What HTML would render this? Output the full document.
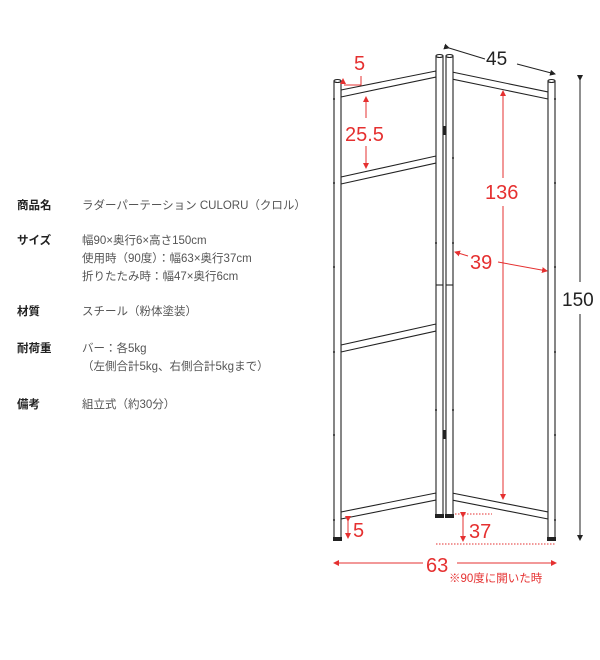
<!DOCTYPE html>
<html><head><meta charset="utf-8"><style>
html,body{margin:0;padding:0;background:#fff;}
body{width:600px;height:660px;position:relative;overflow:hidden;font-family:"Liberation Sans","Noto Sans CJK JP",sans-serif;}
.t{position:absolute;font-size:11.5px;color:#555;line-height:18px;white-space:nowrap;}
.l{position:absolute;left:17px;font-size:11.5px;color:#222;font-weight:bold;line-height:18px;}
</style></head><body>
<div class="l" style="top:197px">商品名</div><div class="t" style="left:82px;top:197px">ラダーパーテーション CULORU（クロル）</div>
<div class="l" style="top:232px">サイズ</div><div class="t" style="left:82px;top:232px">幅90×奥行6×高さ150cm<br>使用時（90度）：幅63×奥行37cm<br>折りたたみ時：幅47×奥行6cm</div>
<div class="l" style="top:303px">材質</div><div class="t" style="left:82px;top:303px">スチール（粉体塗装）</div>
<div class="l" style="top:340px">耐荷重</div><div class="t" style="left:82px;top:340px">バー：各5kg<br>（左側合計5kg、右側合計5kgまで）</div>
<div class="l" style="top:396px">備考</div><div class="t" style="left:82px;top:396px">組立式（約30分）</div>

<svg width="600" height="660" style="position:absolute;left:0;top:0" xmlns="http://www.w3.org/2000/svg">
<defs>
<marker id="ar" markerWidth="6" markerHeight="6" refX="5" refY="3" orient="auto"><path d="M0,0 L6,3 L0,6z" fill="#e53030"/></marker>
<marker id="ak" markerWidth="6" markerHeight="6" refX="5" refY="3" orient="auto"><path d="M0,0 L6,3 L0,6z" fill="#222"/></marker>
</defs>
<g fill="#fff" stroke="#222" stroke-width="1.1">
<path d="M341,90 L436,71 L436,77 L341,97z"/>
<path d="M341,177 L436,156 L436,163 L341,184z"/>
<path d="M341,345 L436,324 L436,331 L341,352z"/>
<path d="M341,512 L436,493 L436,500 L341,519z"/>
<path d="M452,72 L548,92 L548,99 L452,79z"/>
<path d="M452,493 L548,512 L548,519 L452,500z"/>
<rect x="334" y="81" width="7" height="457"/>
<rect x="436" y="56" width="7" height="459"/>
<rect x="446" y="56" width="7" height="459"/>
<rect x="548" y="81" width="7" height="457"/>
<ellipse cx="337.5" cy="81" rx="3.5" ry="1.5"/>
<ellipse cx="439.5" cy="56" rx="3.5" ry="1.5"/>
<ellipse cx="449.5" cy="56" rx="3.5" ry="1.5"/>
<ellipse cx="551.5" cy="81" rx="3.5" ry="1.5"/>
<line x1="436" y1="285" x2="443" y2="285"/><line x1="446" y1="285" x2="453" y2="285"/>
</g>
<g fill="#222">
<rect x="333" y="537" width="9" height="4"/><rect x="547" y="537" width="9" height="4"/>
<rect x="435" y="514" width="9" height="4"/><rect x="445" y="514" width="9" height="4"/>
<rect x="443" y="126" width="3" height="9"/><rect x="443" y="430" width="3" height="9"/>
<circle cx="334" cy="183" r="1"/><circle cx="334" cy="267" r="1"/><circle cx="334" cy="352" r="1"/><circle cx="334" cy="435" r="1"/><circle cx="334" cy="520" r="1"/><circle cx="334" cy="99" r="1"/>
<circle cx="555" cy="99" r="1"/><circle cx="555" cy="183" r="1"/><circle cx="555" cy="267" r="1"/><circle cx="555" cy="352" r="1"/><circle cx="555" cy="435" r="1"/><circle cx="555" cy="520" r="1"/>
<circle cx="436" cy="243" r="1"/><circle cx="453" cy="243" r="1"/><circle cx="436" cy="410" r="1"/><circle cx="453" cy="410" r="1"/><circle cx="453" cy="158" r="1"/>
</g>
<g stroke="#222" stroke-width="1" fill="none">
<line x1="449" y1="48" x2="485" y2="59" marker-start="url(#ak)"/>
<line x1="517" y1="64" x2="555" y2="74" marker-end="url(#ak)"/>
<line x1="580" y1="80" x2="580" y2="282" marker-start="url(#ak)"/>
<line x1="580" y1="314" x2="580" y2="540" marker-end="url(#ak)"/>
</g>
<text x="486" y="65" font-size="19" fill="#222" font-family="Liberation Sans,sans-serif">45</text>
<text x="562" y="306" font-size="19" fill="#222" font-family="Liberation Sans,sans-serif">150</text>
<g stroke="#e53030" stroke-width="1" fill="none">
<polyline points="344,85 361,85 361,76"/>
<line x1="343" y1="84" x2="343" y2="79" marker-end="url(#ar)"/>
<line x1="366" y1="118" x2="366" y2="97" marker-end="url(#ar)"/>
<line x1="366" y1="146" x2="366" y2="168" marker-end="url(#ar)"/>
<line x1="503" y1="178" x2="503" y2="91" marker-end="url(#ar)"/>
<line x1="503" y1="206" x2="503" y2="499" marker-end="url(#ar)"/>
<line x1="468" y1="256" x2="455" y2="252" marker-end="url(#ar)"/>
<line x1="498" y1="262" x2="547" y2="271" marker-end="url(#ar)"/>
<line x1="348" y1="521" x2="348" y2="538" marker-start="url(#ar)" marker-end="url(#ar)"/>
<line x1="463" y1="517" x2="463" y2="541" marker-start="url(#ar)" marker-end="url(#ar)"/>
<line x1="455" y1="514" x2="492" y2="514" stroke-dasharray="1.5,1.5"/>
<line x1="436" y1="544" x2="556" y2="544" stroke-dasharray="1.5,1.5"/>
<line x1="423" y1="563" x2="334" y2="563" marker-end="url(#ar)"/>
<line x1="457" y1="563" x2="556" y2="563" marker-end="url(#ar)"/>
</g>
<g fill="#e53030" font-family="Liberation Sans,sans-serif">
<text x="354" y="70" font-size="20">5</text>
<text x="345" y="141" font-size="20">25.5</text>
<text x="485" y="199" font-size="20">136</text>
<text x="470" y="269" font-size="20">39</text>
<text x="353" y="537" font-size="20">5</text>
<text x="469" y="538" font-size="20">37</text>
<text x="426" y="572" font-size="20">63</text>
<text x="449" y="582" font-size="11.5" font-family="Liberation Sans,Noto Sans CJK JP,sans-serif">※90度に開いた時</text>
</g>
</svg>
</body></html>
